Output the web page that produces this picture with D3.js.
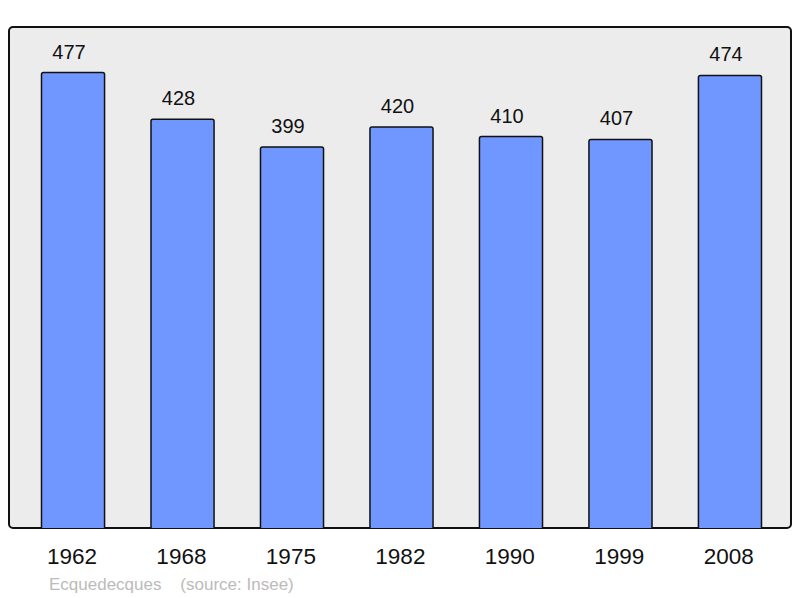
<!DOCTYPE html>
<html><head><meta charset="utf-8">
<script src="https://cdn.jsdelivr.net/npm/d3@7"></script>
<style>body{margin:0;background:#fff}svg{display:block}</style>
</head><body>
<script>
const years = ["1962","1968","1975","1982","1990","1999","2008"];
const population = [477,428,399,420,410,407,474];
const commune = "Ecquedecques";
const source = "(source: Insee)";

const W = 800, H = 598;
const svg = d3.select("body").append("svg").attr("width", W).attr("height", H);
const font = "'Liberation Sans', Arial, sans-serif";

const panel = {x: 9, y: 27, w: 782, h: 501};
svg.append("rect").attr("x", panel.x).attr("y", panel.y).attr("width", panel.w).attr("height", panel.h)
  .attr("rx", 4).attr("fill", "#ececec").attr("stroke", "#111").attr("stroke-width", 2);

const x = d3.scaleBand().domain(years).range([41.5, 761.5]).paddingInner(0.424).paddingOuter(0);
const y = d3.scaleLinear().domain([0, d3.max(population) * 1.1]).range([panel.y + panel.h, panel.y]);

const data = years.map((yr, i) => ({yr, v: population[i]}));

svg.append("g").selectAll("path").data(data).join("path")
  .attr("d", d => {
    const x0 = x(d.yr), x1 = x0 + x.bandwidth(), y0 = y(0), y1 = y(d.v), r = 2;
    return `M${x0},${y0}V${y1 + r}Q${x0},${y1} ${x0 + r},${y1}H${x1 - r}Q${x1},${y1} ${x1},${y1 + r}V${y0}`;
  })
  .attr("fill", "#7097ff").attr("stroke", "#111").attr("stroke-width", 1.5);

svg.append("g").selectAll("text").data(data).join("text")
  .attr("x", d => x(d.yr) + x.bandwidth() / 2 - 4)
  .attr("y", d => y(d.v) - 14)
  .attr("text-anchor", "middle").attr("font-family", font).attr("font-size", 20).attr("fill", "#111")
  .text(d => d.v);

const xAxis = svg.append("g").attr("transform", `translate(0,${panel.y + panel.h})`)
  .call(d3.axisBottom(x).tickSize(0).tickPadding(22));
xAxis.select(".domain").remove();
xAxis.selectAll("text").attr("font-family", font).attr("font-size", 22.5).attr("fill", "#111")
  .attr("dx", "-0.05em").attr("dy", "0.62em");

svg.append("text").attr("x", 49).attr("y", 590).attr("font-family", font).attr("font-size", 17)
  .attr("fill", "#bbb").attr("xml:space", "preserve").style("white-space", "pre")
  .text(commune + "    " + source);
</script>
</body></html>
